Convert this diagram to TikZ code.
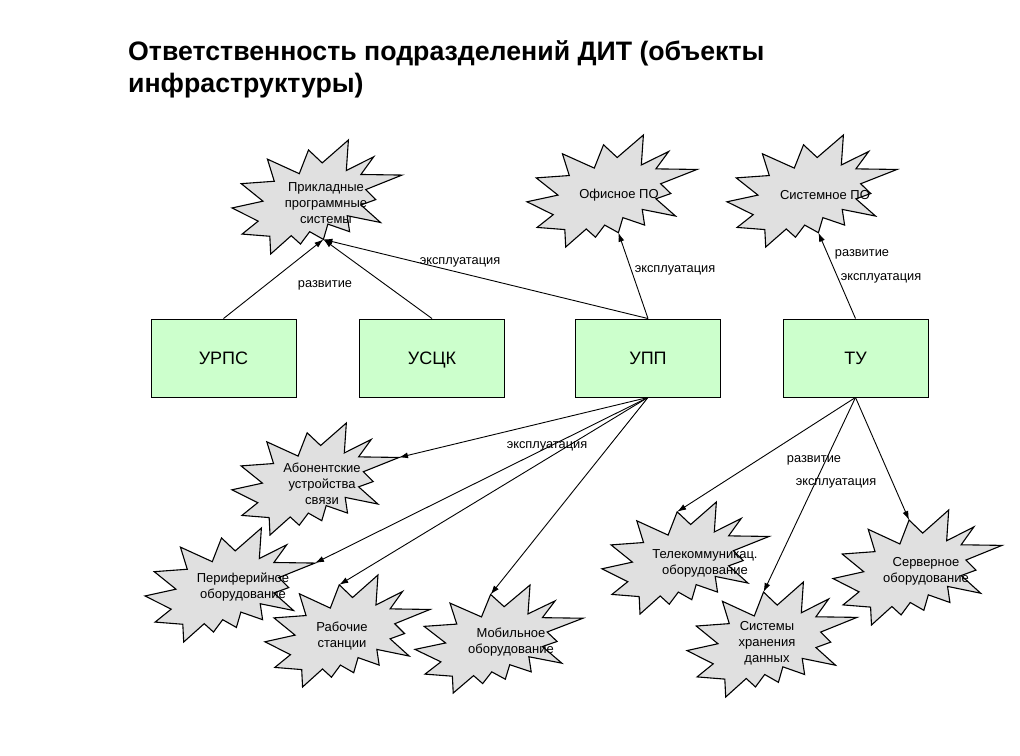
\documentclass[tikz,border=0pt]{standalone}
\usepackage{fontspec}
\setmainfont{Liberation Sans}
\usetikzlibrary{arrows.meta}
\definecolor{boxgreen}{RGB}{204,255,204}
\definecolor{sealgray}{RGB}{224,224,224}
\tikzset{
  sealline/.style={draw=black, fill=sealgray, line width=1.1pt, line join=miter},
  unitbox/.style={draw=black, fill=boxgreen, line width=0.9pt, minimum width=145pt, minimum height=78pt, text height=13pt, text depth=0pt, font=\fontsize{18}{21}\selectfont},
  sealtext/.style={align=center, font=\fontsize{13}{16}\selectfont, inner sep=0pt},
  edgelabel/.style={font=\fontsize{12.8}{14}\selectfont, inner sep=0pt},
  titletext/.style={font=\fontsize{26.7}{30}\selectfont\bfseries, inner sep=0pt, anchor=base west},
  arr/.style={line width=0.9pt, -{Latex[length=9pt,width=6pt]}}
}
% explosion shape: x0 y0 w h name
\newcommand{\explosionseal}[5]{%
  \begin{scope}[shift={(#1,#2)}, xscale=#3/100, yscale=#4/100]
    \path[sealline] (53.06,20.10) -- (68.47,0) -- (67.25,26.75) -- (83.37,14.69) -- (75.83,30.24)
      -- (100,30.76) -- (78.63,43.53) -- (84.58,52.27) -- (75.83,56.99) -- (87.39,72.37)
      -- (67.78,66.44) -- (69.18,80.42) -- (56.39,73.77) -- (53.76,87.23) -- (45.70,80.42)
      -- (40.28,91.26) -- (34.85,83.91) -- (22.76,100) -- (22.25,84.44) -- (5.95,82.52)
      -- (15.42,71.16) -- (0,59.62) -- (18.22,53.67) -- (5.43,38.29) -- (24.87,36.19)
      -- (20.84,16.78) -- (39.58,29.55) -- (45.01,8.74) -- cycle;
    \coordinate (#5-bot) at (53.76,87.23);
    \coordinate (#5-right) at (100,30.76);
    \coordinate (#5-tl) at (45.01,8.74);
  \end{scope}}
\begin{document}
\begin{tikzpicture}[x=1pt, y=-1pt]
\fill[white] (0,0) rectangle (1020,755);
\useasboundingbox (0,0) rectangle (1020,755);

% title
\node[titletext] (title1) at (128,60) {Ответственность подразделений ДИТ (объекты};
\node[titletext] (title2) at (128,92) {инфраструктуры)};

% starbursts
\explosionseal{232}{140}{170}{114}{pps}
\explosionseal{527}{135}{170}{112}{ofis}
\explosionseal{727}{135}{170}{112}{sist}
\explosionseal{232}{423}{167}{112}{abon}
\explosionseal{145}{528}{170}{114}{peri}
\explosionseal{265}{575}{165}{112}{rab}
\explosionseal{415}{585}{168}{108}{mob}
\explosionseal{602}{502}{167}{112}{tel}
\explosionseal{687}{582}{170}{115}{shd}
\explosionseal{833}{510}{169}{115}{serv}

\node[sealtext] (ppsT) at (326,203) {Прикладные\\программные\\системы};
\node[sealtext] (ofisT) at (619,195) {Офисное ПО};
\node[sealtext] (sistT) at (825,195) {Системное ПО};
\node[sealtext] (abonT) at (322,484) {Абонентские\\устройства\\связи};
\node[sealtext] (periT) at (243,587) {Периферийное\\оборудование};
\node[sealtext] (rabT) at (342,636) {Рабочие\\станции};
\node[sealtext] (mobT) at (511,642) {Мобильное\\оборудование};
\node[sealtext] (telT) at (705,563) {Телекоммуникац.\\оборудование};
\node[sealtext] (shdT) at (767,643) {Системы\\хранения\\данных};
\node[sealtext] (servT) at (926,571) {Серверное\\оборудование};

% units
\node[unitbox] (urps) at (223.5,358) {УРПС};
\node[unitbox] (usck) at (432,358) {УСЦК};
\node[unitbox] (upp) at (648,358) {УПП};
\node[unitbox] (tu) at (855.5,358) {ТУ};

% arrows up
\draw[arr] (urps.north) -- (pps-bot);
\draw[arr] (usck.north) -- (pps-bot);
\draw[arr] (upp.north) -- (pps-bot);
\draw[arr] (upp.north) -- (ofis-bot);
\draw[arr] (tu.north) -- (sist-bot);

% arrows down
\draw[arr] (upp.south) -- (abon-right);
\draw[arr] (upp.south) -- (peri-right);
\draw[arr] (upp.south) -- (rab-tl);
\draw[arr] (upp.south) -- (mob-tl);
\draw[arr] (tu.south) -- (tel-tl);
\draw[arr] (tu.south) -- (shd-tl);
\draw[arr] (tu.south) -- (serv-tl);

% labels
\node[edgelabel] (l1) at (460,262) {эксплуатация};
\node[edgelabel] (l2) at (325,285) {развитие};
\node[edgelabel] (l3) at (675,270) {эксплуатация};
\node[edgelabel] (l4) at (862,254) {развитие};
\node[edgelabel] (l5) at (881,278) {эксплуатация};
\node[edgelabel] (l6) at (547,446) {эксплуатация};
\node[edgelabel] (l7) at (814,460) {развитие};
\node[edgelabel] (l8) at (836,483) {эксплуатация};
\end{tikzpicture}
\end{document}
